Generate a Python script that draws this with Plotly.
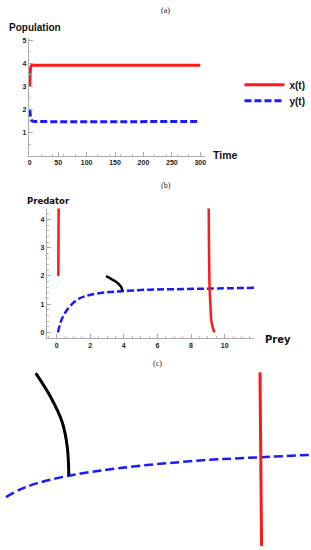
import plotly.graph_objects as go

W, H = 311, 550

# ---------- Panel (a): time series ----------
t_x = [0, 0.5, 1, 2, 3, 5, 10, 300]
x_t = [3.0, 3.45, 3.7, 3.87, 3.91, 3.92, 3.92, 3.92]
t_y = [0, 1, 2, 3, 5, 8, 12, 300]
y_t = [2.0, 1.72, 1.6, 1.54, 1.5, 1.485, 1.48, 1.48]
a_xticks = [0, 50, 100, 150, 200, 250, 300]
a_yticks = [1, 2, 3, 4, 5]

# ---------- Panel (b): phase plane ----------
red1_prey = [0.12, 0.10]
red1_pred = [4.45, 2.0]
red2_prey = [9.05, 9.07, 9.09, 9.11, 9.15, 9.21, 9.3, 9.41]
red2_pred = [4.45, 3.0, 2.0, 1.5, 1.01, 0.42, 0.15, 0.0]
blue_prey = [0.08, 0.24, 0.47, 0.83, 1.32, 2.0, 3.0, 3.89, 5.37, 7.0, 9.07, 11.8]
blue_pred = [0.0, 0.36, 0.66, 0.95, 1.19, 1.33, 1.42, 1.46, 1.51, 1.53, 1.55, 1.58]
black_prey = [2.94, 3.2, 3.49, 3.7, 3.85, 3.92]
black_pred = [1.99, 1.91, 1.81, 1.71, 1.6, 1.46]
b_xticks = [0, 2, 4, 6, 8, 10]
b_yticks = [0, 1, 2, 3, 4]

# ---------- Panel (c): zoomed phase plane ----------
c_blue_prey = [2.227, 2.629, 3.03, 3.92, 5.30, 7.44, 9.07, 10.5]
c_blue_pred = [1.346, 1.387, 1.416, 1.457, 1.497, 1.536, 1.553, 1.566]
c_black_prey = [3.03, 3.43, 3.74, 3.877, 3.92]
c_black_pred = [1.99, 1.866, 1.736, 1.607, 1.46]
c_red_prey = [9.064, 9.107]
c_red_pred = [1.995, 1.09]

RED = "#ff1a1a"
BLUE = "#1a1aff"

def px(x):
    return x / W

def py(y):
    return 1 - y / H

fig = go.Figure()

# panel a
fig.add_trace(go.Scatter(x=t_x, y=x_t, mode="lines", name="x(t)", legend="legend",
                         line=dict(color=RED, width=3, shape="spline"), xaxis="x", yaxis="y"))
fig.add_trace(go.Scatter(x=t_y, y=y_t, mode="lines", name="y(t)", legend="legend2",
                         line=dict(color=BLUE, width=3, dash="7px,3px", shape="spline"),
                         xaxis="x", yaxis="y"))

# panel b
fig.add_trace(go.Scatter(x=blue_prey, y=blue_pred, mode="lines", showlegend=False,
                         line=dict(color=BLUE, width=2.5, dash="7px,3px", shape="spline"),
                         xaxis="x2", yaxis="y2"))
fig.add_trace(go.Scatter(x=red1_prey, y=red1_pred, mode="lines", showlegend=False,
                         line=dict(color=RED, width=2.5), xaxis="x2", yaxis="y2"))
fig.add_trace(go.Scatter(x=red2_prey, y=red2_pred, mode="lines", showlegend=False,
                         line=dict(color=RED, width=2.5, shape="spline"), xaxis="x2", yaxis="y2"))
fig.add_trace(go.Scatter(x=black_prey, y=black_pred, mode="lines", showlegend=False,
                         line=dict(color="black", width=2.5, shape="spline"), xaxis="x2", yaxis="y2"))

# panel c
fig.add_trace(go.Scatter(x=c_blue_prey, y=c_blue_pred, mode="lines", showlegend=False,
                         line=dict(color=BLUE, width=2.5, dash="9px,4px", shape="spline"),
                         xaxis="x3", yaxis="y3"))
fig.add_trace(go.Scatter(x=c_black_prey, y=c_black_pred, mode="lines", showlegend=False,
                         line=dict(color="black", width=3, shape="spline"),
                         xaxis="x3", yaxis="y3"))
fig.add_trace(go.Scatter(x=c_red_prey, y=c_red_pred, mode="lines", showlegend=False,
                         line=dict(color=RED, width=3), xaxis="x3", yaxis="y3"))

tickfont = dict(family="Liberation Sans, Arial", size=7, color="#222", weight="bold")
axcommon = dict(showgrid=False, zeroline=False, showline=True, linecolor="#aaaaaa",
                linewidth=1, ticks="inside", ticklen=4, tickcolor="#aaaaaa",
                tickfont=tickfont,
                minor=dict(ticks="inside", ticklen=2, tickcolor="#bbbbbb", nticks=5))

legfont = dict(family="Liberation Sans, Arial", size=10, color="#111", weight="bold")

fig.update_layout(
    width=W, height=H, margin=dict(l=0, r=0, t=0, b=0),
    plot_bgcolor="white", paper_bgcolor="white",
    xaxis=dict(domain=[px(28), px(205)], range=[-1.75, 307.8], anchor="y",
               tickvals=a_xticks, **axcommon),
    yaxis=dict(domain=[py(155), py(37)], range=[0, 5.1], anchor="x",
               tickvals=a_yticks, **axcommon),
    xaxis2=dict(domain=[px(46), px(255)], range=[-0.59, 11.77], anchor="y2",
                tickvals=b_xticks, **axcommon),
    yaxis2=dict(domain=[py(338), py(208)], range=[-0.212, 4.382], anchor="x2",
                tickvals=b_yticks, **axcommon),
    xaxis3=dict(domain=[0, 1], range=[2.094, 10.41], anchor="y3", visible=False),
    yaxis3=dict(domain=[py(546), py(372)], range=[1.092, 1.994], anchor="x3", visible=False),
    showlegend=True,
    legend=dict(x=px(240), y=py(84), xanchor="left", yanchor="middle", itemwidth=40,
                font=legfont, bgcolor="rgba(0,0,0,0)"),
    legend2=dict(x=px(240), y=py(100), xanchor="left", yanchor="middle", itemwidth=40,
                 font=legfont, bgcolor="rgba(0,0,0,0)"),
)

serif = dict(family="Liberation Serif, Times New Roman", size=8, color="#222")
bold_sans = dict(family="Liberation Sans, Arial", size=10, color="#111", weight="bold")
bold_wide = dict(family="DejaVu Sans", size=8.5, color="#111", weight="bold")

annots = [
    dict(text="(a)", x=px(166), y=py(10), font=serif),
    dict(text="(b)", x=px(166), y=py(185), font=serif),
    dict(text="(c)", x=px(158), y=py(363), font=serif),
    dict(text="Population", x=px(6), y=py(27), xanchor="left", font=bold_sans),
    dict(text="Time", x=px(211), y=py(154), xanchor="left", font=dict(bold_sans, size=10.5)),
    dict(text="Predator", x=px(24), y=py(200), xanchor="left", font=bold_wide),
    dict(text="Prey", x=px(264), y=py(339), xanchor="left", font=dict(bold_wide, size=10)),
]
for a in annots:
    a.update(xref="paper", yref="paper", showarrow=False, yanchor="middle")
    a.setdefault("xanchor", "center")
fig.update_layout(annotations=annots)

fig.write_html("out.html", config={"displayModeBar": False},
               post_script="document.body.style.margin='0';document.body.style.padding='0';")
